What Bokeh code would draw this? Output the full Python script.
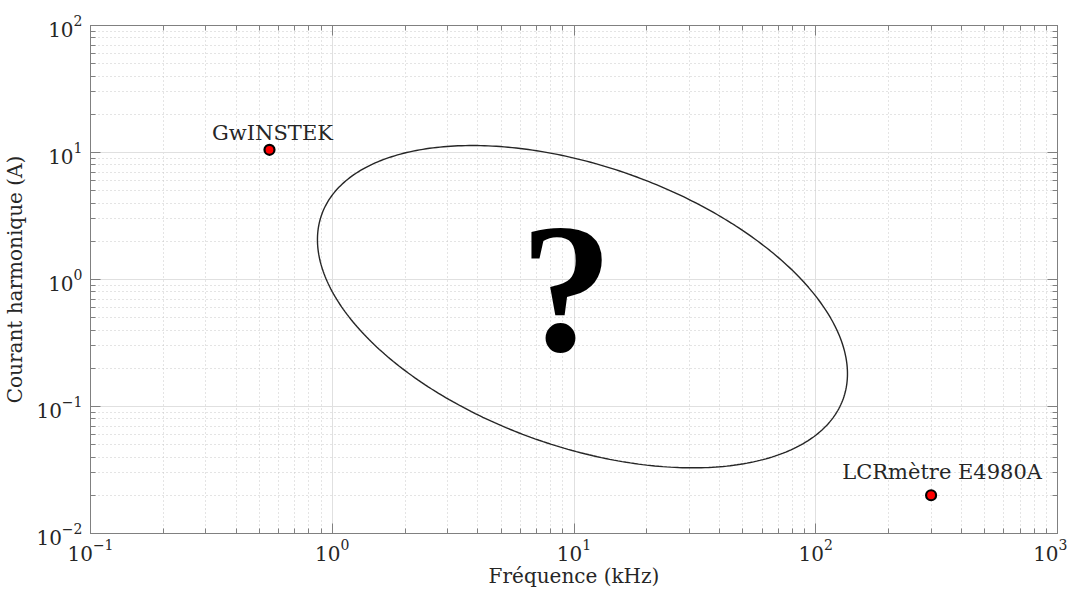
import numpy as np
from bokeh.plotting import figure
from bokeh.models import (Range1d, LogAxis, LogTicker, ColumnDataSource,
                          CustomJSTickFormatter)
from bokeh.core.properties import value
from bokeh.embed import file_html
from bokeh.resources import INLINE

# ---- data ----
instruments = ["GwINSTEK", "LCRmètre E4980A"]
freq_khz = [0.55, 300.0]
current_a = [10.5, 0.02]

# unknown region: ellipse in log10 space (decades)
ell_center_log = [1.035, -0.214]           # log10(kHz), log10(A)
ell_x_coef = [1.0792, -0.1924]             # cos t, sin t terms for log10(f)
ell_y_coef = [-0.7223, -1.0432]            # cos t, sin t terms for log10(I)
question_pos = [9.3, 0.86]

x_range = [0.1, 1000]
y_range = [0.01, 100]

FONT = "DejaVu Serif"
TXT = "#262626"

p = figure(frame_width=967, frame_height=508, x_axis_type="log", y_axis_type="log",
           x_range=Range1d(*x_range), y_range=Range1d(*y_range),
           output_backend="svg", toolbar_location=None,
           min_border_left=84, min_border_right=10, min_border_top=25,
           min_border_bottom=45)
p.outline_line_color = "#808080"
p.outline_line_width = 1

xt = LogTicker(num_minor_ticks=10, desired_num_ticks=5)
yt = LogTicker(num_minor_ticks=10, desired_num_ticks=5)
p.xaxis.ticker = xt
p.yaxis.ticker = yt
p.xgrid.ticker = xt
p.ygrid.ticker = yt

for g in (p.xgrid, p.ygrid):
    g.grid_line_color = "#e0e0e0"
    g.grid_line_width = 1
    g.minor_grid_line_color = "#c8c8c8"
    g.minor_grid_line_dash = "1 3"
    g.minor_grid_line_width = 1

def style_axis(ax):
    ax.axis_line_color = "#808080"
    ax.major_tick_line_color = "#808080"
    ax.minor_tick_line_color = "#808080"
    ax.major_tick_in = 10
    ax.major_tick_out = 0
    ax.minor_tick_in = 5
    ax.minor_tick_out = 0
    ax.major_label_text_font = FONT
    ax.major_label_text_font_size = "20px"
    ax.major_label_text_color = TXT
    ax.major_label_text_line_height = 1.0
    ax.axis_label_text_font = FONT
    ax.axis_label_text_font_size = "20px"
    ax.axis_label_text_font_style = "normal"
    ax.axis_label_text_color = TXT
    ax.axis_label_text_line_height = 1.0

for ax in p.xaxis + p.yaxis:
    style_axis(ax)
p.xaxis.axis_label = "Fréquence (kHz)"
p.yaxis.axis_label = "Courant harmonique (A)"
p.xaxis.major_label_standoff = 5
p.yaxis.major_label_standoff = 8
p.xaxis.axis_label_standoff = 0
p.yaxis.axis_label_standoff = 6

blank = CustomJSTickFormatter(code="return ''")
top = LogAxis(ticker=xt, formatter=blank)
right = LogAxis(ticker=yt, formatter=blank)
for ax in (top, right):
    style_axis(ax)
    ax.major_label_standoff = 0
    ax.major_label_text_font_size = "0px"
p.add_layout(top, "above")
p.add_layout(right, "right")

# ellipse
t = np.linspace(0, 2 * np.pi, 400)
u = ell_center_log[0] + ell_x_coef[0] * np.cos(t) + ell_x_coef[1] * np.sin(t)
v = ell_center_log[1] + ell_y_coef[0] * np.cos(t) + ell_y_coef[1] * np.sin(t)
p.line(10 ** u, 10 ** v, line_color="#262626", line_width=1.4)

# question mark
p.text(x=[question_pos[0]], y=[question_pos[1]], text=["?"],
       text_font=value("Liberation Serif"), text_font_size="185px",
       text_font_style="bold",
       text_align="center", text_baseline="middle", text_color="black")

# points
src = ColumnDataSource(dict(x=freq_khz, y=current_a, name=instruments,
                            dx=[3, 11], dy=[-17, -23]))
p.scatter("x", "y", source=src, size=10, fill_color="red",
          line_color="black", line_width=2.2)
p.text("x", "y", text="name", source=src, x_offset="dx", y_offset="dy",
       text_font=value(FONT), text_font_size="21px", text_color=TXT,
       text_align="center", text_baseline="alphabetic")

open("out.html", "w").write(file_html(p, INLINE))
